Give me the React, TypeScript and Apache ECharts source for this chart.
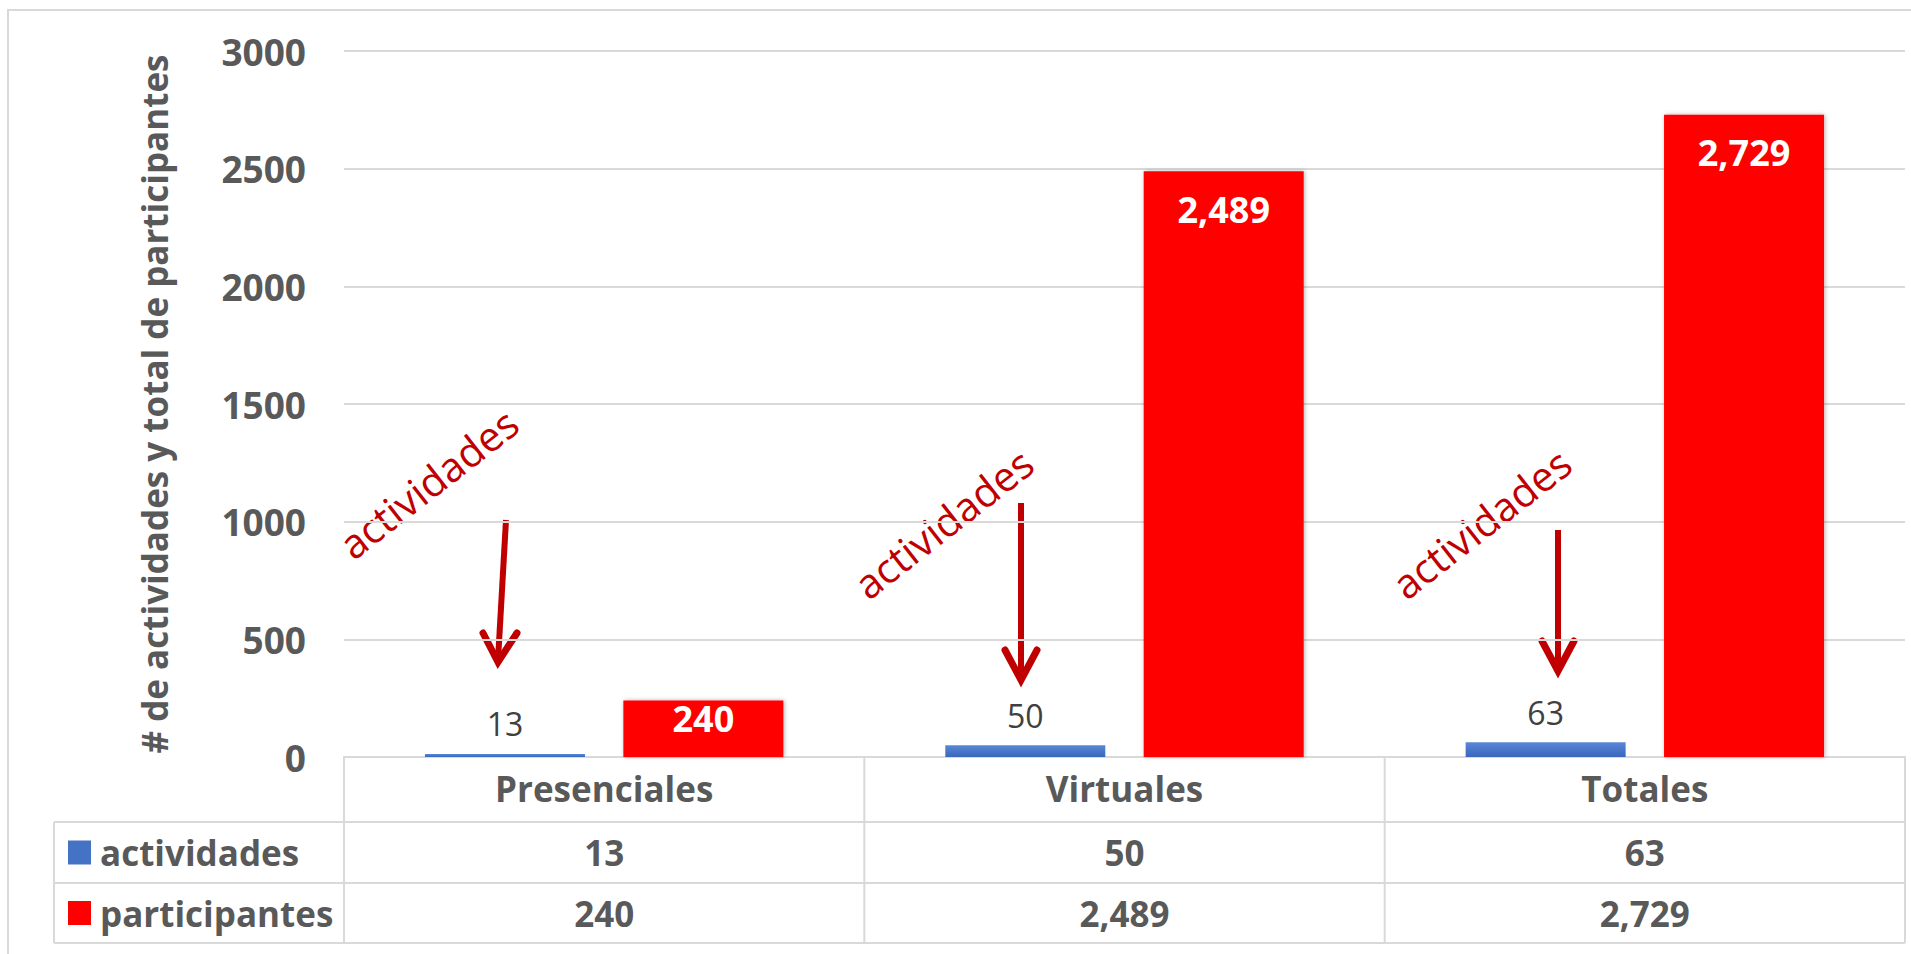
import React, { useEffect, useRef } from "react";
import * as echarts from "echarts";

const categories = ["Presenciales", "Virtuales", "Totales"];
const actividades = [13, 50, 63];
const participantes = [240, 2489, 2729];
const seriesNames = ["actividades", "participantes"];
const annotationLabel = "actividades";
const yMin = 0;
const yMax = 3000;
const yInterval = 500;

const W = 1911;
const H = 954;
const FONT = "'Open Sans', 'Noto Sans', sans-serif";
const GREY = "#595959";
const LINE = "#D9D9D9";
const DARKRED = "#C00000";

const fmt = (v: number) => v.toLocaleString("en-US");

export default function App() {
  const ref = useRef<HTMLDivElement>(null);

  useEffect(() => {
    if (!ref.current) return;
    const chart = echarts.init(ref.current, undefined, { renderer: "svg" });

    const gridLeft = 344;
    const gridRight = 6;
    const gridTop = 51;
    const axisY = 757;
    const plotW = W - gridLeft - gridRight;
    const colW = plotW / categories.length;
    const rowBounds = [axisY, 822, 883, 943];
    const tableLeft = 54;
    const tableRight = W - gridRight;

    const graphics: any[] = [];
    // outer border
    graphics.push({
      type: "rect",
      shape: { x: 8, y: 10, width: 2000, height: 1000 },
      style: { fill: "none", stroke: LINE, lineWidth: 2 },
      silent: true,
    });
    // table horizontal lines
    for (let i = 1; i < rowBounds.length; i++) {
      graphics.push({
        type: "line",
        shape: { x1: tableLeft, y1: rowBounds[i], x2: tableRight, y2: rowBounds[i] },
        style: { stroke: LINE, lineWidth: 2 },
      });
    }
    // table vertical lines
    for (let c = 0; c <= categories.length; c++) {
      const x = gridLeft + c * colW;
      graphics.push({
        type: "line",
        shape: { x1: x, y1: axisY, x2: x, y2: rowBounds[3] },
        style: { stroke: LINE, lineWidth: 2 },
      });
    }
    graphics.push({
      type: "line",
      shape: { x1: tableLeft, y1: rowBounds[1], x2: tableLeft, y2: rowBounds[3] },
      style: { stroke: LINE, lineWidth: 2 },
    });
    // legend keys and row labels
    const rowData = [actividades, participantes];
    const keyColors = ["#4472C4", "#FF0000"];
    for (let r = 0; r < 2; r++) {
      const cy = (rowBounds[r + 1] + rowBounds[r + 2]) / 2;
      graphics.push({
        type: "rect",
        shape: { x: 68, y: cy - 12, width: 23, height: 24 },
        style: { fill: keyColors[r] },
      });
      graphics.push({
        type: "text",
        x: 100,
        y: cy,
        style: {
          text: seriesNames[r],
          fontFamily: FONT,
          fontWeight: "bold",
          fontSize: 35,
          fill: GREY,
          align: "left",
          verticalAlign: "middle",
        },
      });
      rowData[r].forEach((v, c) => {
        graphics.push({
          type: "text",
          x: gridLeft + (c + 0.5) * colW,
          y: cy,
          style: {
            text: fmt(v),
            fontFamily: FONT,
            fontWeight: "bold",
            fontSize: 35,
            fill: GREY,
            align: "center",
            verticalAlign: "middle",
          },
        });
      });
    }
    // annotations: rotated text + arrows
    const notes = [
      { tx: 428, ty: 483, line: [506, 520, 498, 660], wing: [483, 633, 517, 633] },
      { tx: 943, ty: 523, line: [1021, 503, 1021, 678], wing: [1005, 650, 1037, 650] },
      { tx: 1481, ty: 523, line: [1558, 530, 1558, 669], wing: [1542, 641, 1574, 641] },
    ];
    notes.forEach((n) => {
      graphics.push({
        type: "text",
        x: n.tx,
        y: n.ty,
        rotation: (38 * Math.PI) / 180,
        style: {
          text: annotationLabel,
          fontFamily: FONT,
          fontSize: 41,
          fill: DARKRED,
          align: "center",
          verticalAlign: "middle",
        },
      });
      graphics.push({
        type: "line",
        shape: { x1: n.line[0], y1: n.line[1], x2: n.line[2], y2: n.line[3] },
        style: { stroke: DARKRED, lineWidth: 6, lineCap: "butt" },
      });
      graphics.push({
        type: "polyline",
        shape: {
          points: [
            [n.wing[0], n.wing[1]],
            [n.line[2], n.line[3] + 2],
            [n.wing[2], n.wing[3]],
          ],
        },
        style: { stroke: DARKRED, lineWidth: 7, fill: "none", lineJoin: "miter", lineCap: "round" },
      });
    });

    const option: any = {
      animation: false,
      backgroundColor: "#FFFFFF",
      grid: { left: gridLeft, right: gridRight, top: gridTop, bottom: H - axisY, containLabel: false },
      xAxis: {
        type: "category",
        data: categories,
        axisLine: { show: true, lineStyle: { color: LINE, width: 2 } },
        axisTick: { show: false },
        axisLabel: {
          margin: 31,
          verticalAlign: "middle",
          fontFamily: FONT,
          fontWeight: "bold",
          fontSize: 35,
          color: GREY,
        },
      },
      yAxis: {
        type: "value",
        min: yMin,
        max: yMax,
        interval: yInterval,
        name: "# de actividades y total de participantes",
        nameLocation: "middle",
        nameGap: 172,
        nameTextStyle: { fontFamily: FONT, fontWeight: "bold", fontSize: 35, color: GREY },
        axisLine: { show: false },
        axisTick: { show: false },
        splitLine: { lineStyle: { color: LINE, width: 2 } },
        axisLabel: {
          margin: 38,
          fontFamily: FONT,
          fontWeight: "bold",
          fontSize: 37,
          color: GREY,
          formatter: (v: number) => String(v),
        },
      },
      series: [
        {
          name: seriesNames[0],
          type: "bar",
          data: actividades,
          barWidth: 160,
          barGap: "24%",
          itemStyle: {
            color: new echarts.graphic.LinearGradient(0, 0, 0, 1, [
              { offset: 0, color: "#5B87D6" },
              { offset: 1, color: "#3A66BC" },
            ]),
          },
          label: {
            show: true,
            position: "top",
            distance: 14,
            fontFamily: FONT,
            fontSize: 32,
            color: "#404040",
            formatter: (p: any) => fmt(p.value),
          },
        },
        {
          name: seriesNames[1],
          type: "bar",
          data: participantes.map((v) => (v < 500 ? { value: v, label: { distance: 0 } } : v)),
          barWidth: 160,
          itemStyle: {
            color: "#FF0000",
            shadowColor: "rgba(0,0,0,0.3)",
            shadowBlur: 4,
            shadowOffsetX: 1,
          },
          label: {
            show: true,
            position: "insideTop",
            distance: 20,
            fontFamily: FONT,
            fontWeight: "bold",
            fontSize: 36,
            color: "#FFFFFF",
            formatter: (p: any) => fmt(p.value),
          },
        },
      ],
      graphic: graphics,
    };

    chart.setOption(option);
    return () => chart.dispose();
  }, []);

  return (
    <div
      ref={ref}
      style={{ position: "fixed", left: 0, top: 0, width: W, height: H, background: "#fff" }}
    />
  );
}
